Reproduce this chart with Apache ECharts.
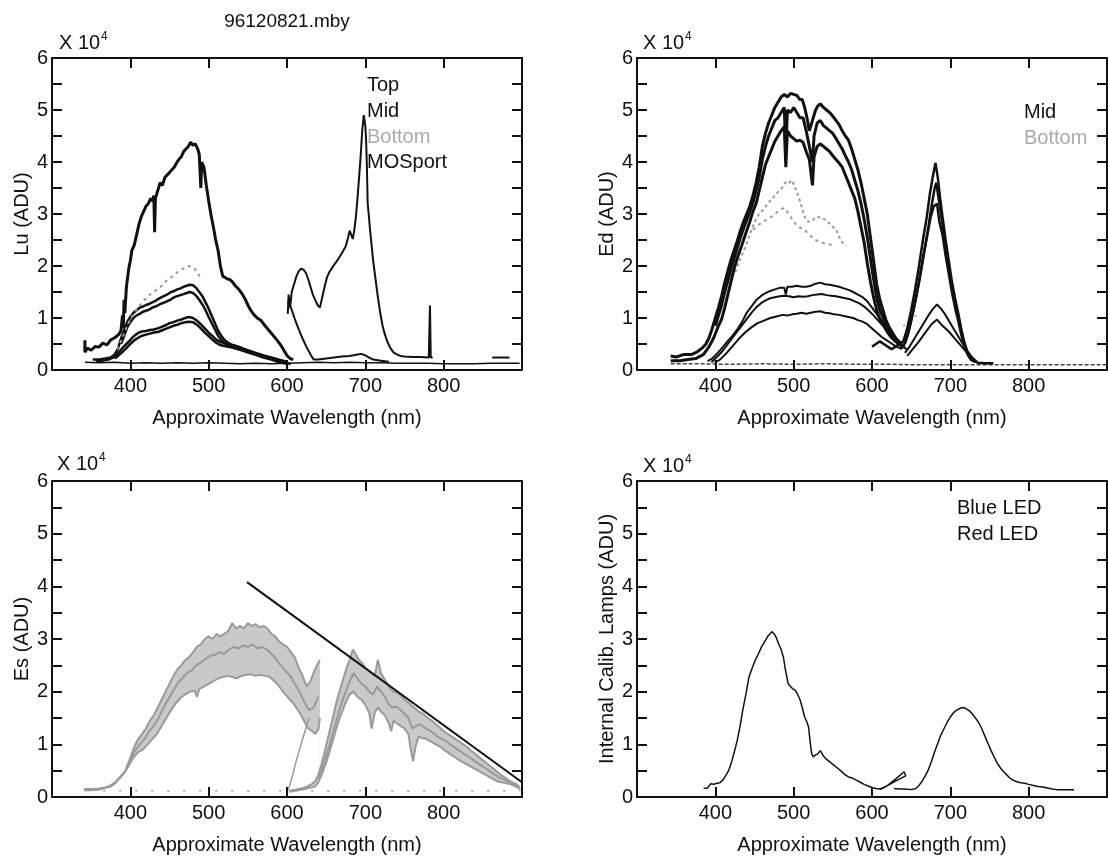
<!DOCTYPE html>
<html>
<head>
<meta charset="utf-8">
<title>96120821.mby</title>
<script src="https://cdn.jsdelivr.net/npm/echarts@6/dist/echarts.min.js"></script>
<style>
html,body{margin:0;padding:0;background:#fff;}
#chart{width:1108px;height:867px;}
</style>
</head>
<body>
<div id="chart"></div>
<script>
// ---- data. x = wavelength (nm), y = counts / 1e4 ----
var xTicks = [300, 900, 100];          // min, max, step
var yTicks = [0, 6, 0.5];

// panel 1 : Lu
var luTopBlue = [[342,0.57],[342,0.34],[345,0.42],[350,0.38],[355,0.45],[360,0.44],[365,0.52],[370,0.48],[375,0.58],[380,0.62],[385,0.68],[388,0.75],[390,1.05],[391,0.8],[392,1.35],[393,1.1],[395,1.6],[398,1.95],[400,2.1],[402,2.3],[405,2.4],[408,2.6],[411,2.8],[414,2.95],[417,3.05],[420,3.15],[423,3.2],[426,3.3],[428,3.25],[430,3.35],[431,2.65],[432,3.3],[435,3.45],[438,3.6],[441,3.55],[444,3.7],[447,3.75],[450,3.8],[453,3.85],[456,3.9],[459,3.98],[462,4.05],[465,4.1],[468,4.2],[471,4.25],[474,4.3],[477,4.38],[480,4.32],[483,4.35],[486,4.25],[488,4.15],[490,3.5],[491,4.0],[494,3.9],[497,3.55],[500,3.25],[503,2.98],[506,2.75],[509,2.5],[512,2.3],[515,2.0],[518,1.8],[521,1.78],[524,1.75],[527,1.74],[530,1.7],[534,1.62],[538,1.56],[542,1.48],[546,1.38],[550,1.25],[554,1.14],[558,1.06],[562,1.0],[567,0.95],[572,0.85],[577,0.76],[582,0.67],[587,0.58],[592,0.48],[596,0.38],[600,0.28],[604,0.22],[608,0.2]];
var luTopRed = [[601,1.08],[602,1.45],[604,1.2],[606,1.5],[609,1.65],[612,1.8],[615,1.9],[618,1.95],[621,1.93],[624,1.87],[627,1.75],[630,1.6],[633,1.45],[636,1.35],[639,1.25],[642,1.2],[645,1.4],[648,1.6],[651,1.78],[654,1.88],[657,1.95],[660,2.02],[663,2.08],[666,2.15],[669,2.22],[672,2.3],[675,2.38],[678,2.55],[680,2.68],[682,2.6],[684,2.52],[686,2.7],[688,2.95],[690,3.3],[692,3.7],[694,4.1],[696,4.6],[698,4.9],[700,4.7],[701,4.4],[702,3.9],[703,3.2],[704,3.05],[706,2.7],[708,2.4],[710,2.1],[713,1.75],[716,1.4],[719,1.1],[722,0.85],[725,0.68],[728,0.55],[732,0.42],[736,0.34],[740,0.3],[745,0.27],[750,0.26],[760,0.25],[770,0.25],[781,0.24],[782.5,1.24],[783.5,0.24],[786,0.24]];
var luTail = [[862,0.24],[884,0.24]];
var luMidA = [[352,0.2],[360,0.2],[368,0.22],[375,0.24],[380,0.3],[384,0.4],[388,0.6],[391,0.72],[394,0.85],[397,0.95],[400,1.02],[404,1.1],[408,1.15],[412,1.2],[416,1.22],[420,1.25],[424,1.27],[428,1.3],[432,1.33],[436,1.37],[440,1.4],[444,1.43],[448,1.46],[452,1.5],[456,1.52],[460,1.55],[464,1.57],[468,1.6],[472,1.62],[476,1.64],[480,1.63],[484,1.58],[488,1.5],[492,1.42],[496,1.3],[500,1.18],[504,1.04],[508,0.9],[512,0.76],[516,0.66],[520,0.58],[525,0.52],[530,0.48],[535,0.46],[540,0.44],[545,0.4],[550,0.37],[555,0.35],[560,0.32],[565,0.3],[570,0.27],[575,0.25],[580,0.22],[585,0.19],[590,0.17],[595,0.15],[600,0.13],[605,0.12]];
var luMidB = [[388,0.5],[392,0.65],[396,0.82],[400,0.92],[404,1.0],[408,1.05],[412,1.08],[416,1.12],[420,1.14],[424,1.16],[428,1.2],[432,1.22],[436,1.25],[440,1.28],[444,1.3],[448,1.33],[452,1.36],[456,1.4],[460,1.42],[464,1.44],[468,1.46],[472,1.48],[476,1.5],[480,1.48],[484,1.43],[488,1.35],[492,1.26],[496,1.15],[500,1.02],[504,0.9],[508,0.78],[512,0.66],[516,0.58],[520,0.52],[525,0.47],[530,0.44],[540,0.4],[550,0.34],[560,0.29],[570,0.24],[580,0.2],[590,0.15],[600,0.12]];
var luMidRed = [[601,1.32],[605,1.2],[610,0.98],[615,0.78],[620,0.6],[625,0.44],[630,0.3],[634,0.2],[640,0.2],[650,0.22],[660,0.24],[670,0.26],[680,0.27],[690,0.3],[695,0.31],[700,0.28],[705,0.24],[710,0.2],[720,0.18],[730,0.16]];
var luBottom = [[383,0.4],[388,0.55],[392,0.7],[396,0.85],[400,0.98],[405,1.1],[410,1.2],[415,1.3],[420,1.38],[425,1.45],[430,1.5],[435,1.56],[440,1.62],[445,1.7],[450,1.76],[455,1.82],[460,1.88],[465,1.93],[470,1.97],[475,2.0],[480,1.98],[485,1.9],[490,1.75]];
var luMosA = [[356,0.17],[365,0.18],[372,0.2],[378,0.24],[383,0.3],[387,0.37],[391,0.44],[395,0.5],[399,0.56],[403,0.63],[407,0.68],[411,0.72],[415,0.74],[420,0.75],[425,0.77],[430,0.78],[435,0.8],[440,0.83],[445,0.86],[450,0.9],[455,0.92],[460,0.95],[465,0.97],[470,1.0],[475,1.02],[480,1.0],[485,0.95],[490,0.88],[495,0.8],[500,0.72],[505,0.65],[510,0.58],[515,0.54],[520,0.52],[525,0.5],[530,0.48],[540,0.43],[550,0.38],[560,0.33],[570,0.28],[580,0.24],[590,0.2],[600,0.16]];
var luMosB = [[380,0.22],[385,0.28],[390,0.35],[395,0.42],[400,0.5],[405,0.57],[410,0.62],[415,0.66],[420,0.68],[425,0.7],[430,0.72],[435,0.73],[440,0.76],[445,0.79],[450,0.82],[455,0.85],[460,0.87],[465,0.9],[470,0.92],[475,0.93],[480,0.92],[485,0.87],[490,0.8],[495,0.72],[500,0.65],[505,0.58],[510,0.52],[515,0.48],[520,0.46],[530,0.43],[540,0.39],[550,0.34],[560,0.3],[570,0.25],[580,0.21],[590,0.17],[600,0.14]];
var luDark = [[342,0.15],[360,0.14],[380,0.15],[400,0.13],[420,0.14],[440,0.13],[460,0.14],[480,0.13],[500,0.14],[520,0.13],[540,0.12],[560,0.13],[580,0.12],[600,0.13],[620,0.14],[640,0.15],[660,0.14],[680,0.15],[700,0.14],[720,0.14],[740,0.13],[760,0.13],[780,0.13],[800,0.12],[820,0.12],[840,0.12],[860,0.13],[880,0.13],[897,0.13]];

// panel 2 : Ed
var edMidA = [[343,0.27],[350,0.25],[360,0.3],[370,0.3],[377,0.35],[383,0.42],[388,0.5],[392,0.62],[396,0.8],[400,1.0],[404,1.2],[408,1.42],[412,1.68],[416,1.9],[420,2.12],[424,2.3],[428,2.48],[432,2.68],[436,2.85],[440,3.0],[444,3.15],[448,3.35],[452,3.6],[456,3.9],[460,4.3],[464,4.55],[468,4.75],[472,4.9],[476,5.05],[480,5.15],[484,5.25],[488,5.3],[492,5.25],[496,5.32],[500,5.3],[504,5.28],[508,5.2],[511,5.2],[514,5.05],[517,4.85],[520,4.6],[522,4.7],[525,4.85],[528,5.0],[531,5.08],[534,5.12],[538,5.05],[542,5.0],[546,4.95],[550,4.88],[554,4.8],[558,4.72],[562,4.6],[566,4.5],[570,4.42],[574,4.25],[578,4.05],[582,3.85],[586,3.6],[590,3.3],[594,3.0],[598,2.55],[602,2.1],[606,1.65],[610,1.35],[614,1.15],[618,0.95],[622,0.82],[626,0.72],[630,0.62],[634,0.55],[638,0.5]];
var edMidB = [[343,0.18],[355,0.18],[365,0.2],[375,0.22],[385,0.3],[392,0.45],[398,0.62],[404,0.85],[408,0.98],[412,1.2],[416,1.45],[420,1.7],[424,1.95],[428,2.15],[432,2.32],[436,2.5],[440,2.68],[444,2.85],[448,3.05],[452,3.2],[456,3.45],[460,3.7],[464,3.95],[468,4.1],[472,4.25],[476,4.4],[480,4.5],[484,4.6],[488,4.68],[490,3.9],[492,4.6],[496,4.5],[500,4.45],[504,4.4],[508,4.42],[512,4.38],[516,4.2],[520,4.05],[524,3.55],[526,4.1],[530,4.3],[534,4.35],[538,4.3],[542,4.25],[546,4.2],[550,4.12],[554,4.05],[558,3.98],[562,3.9],[566,3.75],[570,3.6],[574,3.45],[578,3.3],[582,3.05],[586,2.75],[590,2.45],[594,2.05],[598,1.7],[602,1.4],[606,1.15],[610,0.98],[615,0.85],[620,0.72],[625,0.62],[630,0.55],[636,0.48],[640,0.42]];
var edMidC = [[400,0.85],[404,1.05],[408,1.25],[412,1.5],[416,1.72],[420,1.95],[424,2.15],[428,2.35],[432,2.55],[436,2.72],[440,2.88],[444,3.05],[448,3.22],[452,3.45],[456,3.7],[460,4.05],[464,4.3],[468,4.5],[472,4.65],[476,4.8],[480,4.85],[484,4.95],[488,5.05],[490,4.2],[492,5.0],[496,4.95],[500,5.05],[504,4.95],[508,4.85],[512,4.85],[516,4.6],[520,4.3],[524,4.0],[526,4.5],[530,4.75],[534,4.8],[538,4.7],[542,4.65],[546,4.6],[550,4.55],[554,4.45],[558,4.35],[562,4.25],[566,4.12],[570,4.0],[574,3.85],[578,3.65],[582,3.45],[586,3.2],[590,2.9],[594,2.55],[598,2.15],[602,1.75],[606,1.4],[610,1.15],[615,0.98],[620,0.82],[625,0.7],[630,0.6],[636,0.52]];
var edRedA = [[600,0.45],[605,0.5],[610,0.55],[615,0.5],[620,0.45],[625,0.4],[630,0.45],[635,0.5],[640,0.55],[645,0.8],[650,1.15],[655,1.55],[660,2.0],[665,2.5],[670,2.95],[674,3.4],[678,3.75],[681,3.98],[684,3.7],[687,3.3],[690,2.95],[694,2.5],[698,2.1],[702,1.7],[706,1.38],[710,1.1],[714,0.78],[718,0.52],[722,0.35],[726,0.25],[730,0.18],[735,0.14],[745,0.13],[755,0.13]];
var edRedB = [[640,0.45],[645,0.65],[650,0.95],[655,1.3],[660,1.7],[665,2.15],[670,2.55],[675,2.95],[679,3.15],[683,3.2],[686,2.85],[690,2.6],[694,2.2],[698,1.85],[702,1.5],[706,1.2],[710,0.95],[714,0.68],[718,0.45],[722,0.3],[726,0.2],[732,0.15]];
var edRedC = [[642,0.5],[647,0.75],[652,1.08],[657,1.45],[662,1.85],[667,2.3],[672,2.75],[676,3.15],[680,3.5],[682,3.6],[685,3.3],[688,3.0],[692,2.6],[696,2.2],[700,1.8],[704,1.48],[708,1.18],[712,0.9],[716,0.62],[720,0.4],[724,0.27],[728,0.19]];
var edLowA = [[390,0.17],[396,0.22],[403,0.33],[410,0.45],[416,0.56],[422,0.66],[428,0.78],[434,0.92],[440,1.1],[446,1.22],[452,1.34],[458,1.42],[464,1.48],[470,1.52],[476,1.55],[482,1.58],[488,1.58],[490,1.45],[492,1.6],[498,1.6],[504,1.62],[510,1.6],[516,1.6],[522,1.62],[528,1.66],[534,1.68],[540,1.65],[546,1.64],[552,1.62],[558,1.6],[564,1.57],[570,1.54],[576,1.5],[582,1.45],[588,1.4],[594,1.32],[600,1.2],[606,1.08],[612,0.96],[618,0.84],[624,0.72],[630,0.62],[636,0.52],[642,0.42]];
var edLowB = [[395,0.15],[402,0.25],[410,0.38],[416,0.5],[422,0.62],[428,0.74],[434,0.86],[440,0.98],[446,1.1],[452,1.2],[458,1.28],[464,1.34],[470,1.38],[476,1.4],[482,1.42],[488,1.43],[494,1.42],[500,1.4],[506,1.42],[512,1.41],[518,1.42],[524,1.44],[530,1.45],[536,1.46],[542,1.44],[548,1.43],[554,1.42],[560,1.4],[566,1.38],[572,1.36],[578,1.32],[584,1.28],[590,1.22],[596,1.14],[602,1.05],[608,0.95],[614,0.85],[620,0.75],[626,0.65],[632,0.55],[638,0.47],[644,0.4]];
var edLowC = [[399,0.14],[406,0.2],[414,0.32],[422,0.46],[430,0.6],[438,0.72],[446,0.82],[454,0.9],[462,0.95],[470,1.0],[478,1.03],[486,1.06],[492,1.05],[498,1.07],[504,1.08],[510,1.1],[516,1.08],[522,1.1],[528,1.12],[534,1.13],[540,1.1],[546,1.09],[552,1.07],[558,1.06],[564,1.04],[570,1.02],[576,1.0],[582,0.96],[588,0.93],[594,0.88],[600,0.8],[606,0.72],[612,0.64],[618,0.58],[624,0.52],[630,0.46],[638,0.4]];
var edLowRedA = [[642,0.33],[648,0.45],[654,0.6],[660,0.75],[666,0.9],[672,1.05],[678,1.18],[683,1.26],[688,1.18],[692,1.1],[698,0.95],[704,0.8],[710,0.65],[716,0.5],[722,0.36],[728,0.24],[734,0.16]];
var edLowRedB = [[645,0.27],[652,0.4],[660,0.55],[668,0.72],[676,0.88],[683,0.97],[690,0.85],[698,0.74],[706,0.6],[714,0.46],[722,0.32],[730,0.2]];
var edBotA = [[420,1.8],[426,1.9],[432,2.15],[438,2.35],[444,2.6],[450,2.85],[456,3.0],[462,3.1],[468,3.22],[474,3.32],[480,3.42],[486,3.52],[490,3.62],[494,3.6],[498,3.65],[502,3.5],[506,3.35],[510,3.15],[514,2.95],[518,2.85],[524,2.88],[530,2.95],[536,2.92],[542,2.88],[548,2.78],[554,2.7],[560,2.5],[566,2.38]];
var edBotB = [[448,2.7],[456,2.8],[464,2.88],[472,2.95],[480,3.05],[488,3.12],[494,3.0],[500,2.85],[506,2.75],[512,2.72],[520,2.6],[528,2.5],[536,2.45],[544,2.42],[552,2.4]];
var edBotRed = [[640,0.85],[646,0.92],[652,1.0],[660,1.08]];
var edDark = [[343,0.12],[380,0.12],[420,0.11],[460,0.12],[500,0.11],[540,0.12],[580,0.11],[620,0.11],[660,0.1],[700,0.1],[740,0.1],[780,0.1],[820,0.1],[860,0.1],[900,0.1]];

// panel 3 : Es
var esLine = [[549,4.08],[900,0.28]];
var esBlueA = [[341,0.15],[350,0.15],[360,0.16],[368,0.18],[375,0.22],[382,0.3],[388,0.4],[394,0.5],[400,0.75],[405,0.95],[410,1.1],[415,1.2],[420,1.3],[425,1.45],[430,1.55],[435,1.7],[440,1.85],[445,2.0],[450,2.15],[455,2.3],[460,2.42],[465,2.5],[470,2.6],[475,2.65],[480,2.75],[485,2.85],[490,2.9],[495,3.0],[500,3.05],[505,3.0],[510,3.1],[515,3.05],[520,3.1],[525,3.15],[530,3.3],[535,3.2],[540,3.25],[545,3.2],[550,3.3],[555,3.25],[560,3.28],[565,3.22],[570,3.25],[575,3.2],[580,3.1],[585,3.05],[590,2.95],[595,2.9],[600,2.85],[605,2.75],[610,2.65],[615,2.45],[620,2.3],[625,2.1],[630,2.2],[635,2.4],[640,2.55],[642,2.6]];
var esBlueB = [[395,0.55],[400,0.7],[406,0.88],[412,1.0],[418,1.1],[424,1.25],[430,1.35],[436,1.5],[442,1.68],[448,1.85],[454,2.0],[460,2.15],[466,2.25],[472,2.35],[478,2.4],[484,2.5],[490,2.55],[496,2.62],[502,2.68],[508,2.7],[514,2.75],[520,2.72],[526,2.8],[532,2.85],[538,2.82],[544,2.88],[550,2.85],[556,2.9],[562,2.82],[568,2.85],[574,2.8],[580,2.72],[586,2.62],[592,2.5],[598,2.4],[604,2.3],[610,2.15],[616,2.0],[622,1.8],[628,1.65],[634,1.7],[640,1.9]];
var esBlueC = [[341,0.13],[360,0.14],[375,0.2],[380,0.25],[386,0.35],[392,0.45],[398,0.6],[404,0.75],[410,0.85],[416,0.9],[422,1.0],[428,1.1],[434,1.2],[440,1.35],[446,1.5],[452,1.65],[458,1.78],[464,1.88],[470,1.95],[476,2.0],[482,2.02],[485,1.9],[488,2.05],[494,2.1],[500,2.15],[506,2.2],[512,2.25],[518,2.28],[524,2.3],[530,2.28],[536,2.25],[542,2.3],[548,2.32],[554,2.33],[560,2.3],[566,2.32],[572,2.3],[578,2.28],[584,2.2],[590,2.1],[596,1.98],[602,1.88],[608,1.78],[614,1.65],[620,1.5],[626,1.32],[632,1.25],[636,1.2],[640,1.28],[642,1.5]];
var esRise = [[600,0.1],[603,0.2],[607,0.4],[612,0.7],[618,1.0],[624,1.3],[628,1.5]];
var esRedA = [[603,0.12],[610,0.14],[618,0.16],[626,0.2],[632,0.25],[636,0.3],[640,0.42],[644,0.62],[648,0.85],[652,1.1],[656,1.35],[660,1.6],[664,1.85],[668,2.05],[672,2.25],[676,2.45],[680,2.6],[684,2.8],[688,2.7],[692,2.6],[696,2.55],[700,2.45],[704,2.4],[708,2.35],[712,2.3],[716,2.6],[720,2.35],[724,2.25],[728,2.15],[732,2.05],[736,2.0],[740,1.98],[744,1.95],[748,1.88],[752,1.82],[756,1.78],[760,1.72],[764,1.68],[768,1.62],[772,1.6],[776,1.55],[780,1.5],[785,1.45],[790,1.38],[795,1.32],[800,1.25],[805,1.2],[810,1.15],[815,1.1],[820,1.05],[825,1.0],[830,0.95],[835,0.88],[840,0.82],[845,0.76],[850,0.7],[855,0.64],[860,0.58],[865,0.52],[870,0.46],[875,0.4],[880,0.35],[885,0.3],[890,0.25],[897,0.2]];
var esRedB = [[640,0.35],[645,0.55],[650,0.78],[655,1.02],[660,1.3],[665,1.55],[670,1.8],[675,2.0],[680,2.2],[685,2.35],[690,2.25],[695,2.15],[700,2.1],[705,2.0],[710,1.95],[715,2.1],[720,2.0],[725,1.9],[730,1.75],[735,1.7],[740,1.72],[745,1.65],[750,1.58],[755,1.5],[760,1.3],[765,1.35],[770,1.38],[775,1.32],[780,1.28],[786,1.22],[792,1.15],[798,1.1],[804,1.05],[810,0.98],[816,0.92],[822,0.86],[828,0.8],[834,0.74],[840,0.68],[846,0.62],[852,0.56],[858,0.5],[864,0.44],[870,0.38],[876,0.34],[882,0.3],[888,0.27],[894,0.24]];
var esRedC = [[603,0.1],[620,0.14],[636,0.2],[640,0.28],[645,0.45],[650,0.65],[655,0.9],[660,1.15],[665,1.4],[670,1.6],[675,1.8],[680,1.95],[685,2.0],[690,1.9],[695,1.85],[700,1.75],[705,1.6],[708,1.3],[712,1.6],[716,1.7],[720,1.62],[725,1.55],[730,1.4],[733,1.25],[736,1.45],[740,1.4],[745,1.35],[750,1.3],[755,1.2],[758,0.9],[761,0.68],[764,0.95],[768,1.15],[772,1.12],[778,1.1],[784,1.05],[790,1.0],[796,0.95],[802,0.88],[808,0.82],[814,0.76],[820,0.7],[826,0.65],[832,0.6],[838,0.55],[844,0.5],[850,0.45],[856,0.4],[862,0.35],[868,0.3],[874,0.28],[880,0.26],[886,0.24],[892,0.2],[898,0.15]];
var esFloor = [[345,0.12],[400,0.12],[450,0.11],[500,0.12],[550,0.11],[600,0.12],[650,0.11],[700,0.12],[750,0.11],[800,0.12],[850,0.11],[898,0.12]];

// panel 4 : calibration lamps
var blueLed = [[385,0.16],[390,0.17],[394,0.25],[398,0.24],[402,0.26],[406,0.27],[410,0.33],[413,0.4],[417,0.5],[421,0.68],[425,0.9],[428,1.08],[432,1.38],[435,1.65],[439,1.95],[443,2.28],[447,2.45],[451,2.6],[455,2.72],[459,2.85],[463,2.95],[467,3.05],[470,3.1],[472,3.14],[475,3.1],[478,3.02],[481,2.9],[484,2.8],[487,2.65],[489,2.45],[491,2.3],[493,2.15],[496,2.1],[499,2.05],[502,2.03],[505,1.95],[508,1.85],[511,1.7],[514,1.52],[517,1.42],[519,1.33],[521,1.05],[523,0.82],[525,0.76],[528,0.8],[531,0.82],[534,0.88],[536,0.86],[538,0.78],[541,0.73],[545,0.68],[550,0.62],[555,0.56],[560,0.5],[565,0.43],[570,0.38],[575,0.36],[580,0.32],[585,0.28],[590,0.24],[595,0.21],[600,0.18],[605,0.16],[610,0.15],[620,0.22],[630,0.34],[641,0.48],[643,0.4],[630,0.3],[618,0.2],[610,0.14]];
var redLed = [[628,0.16],[635,0.15],[642,0.15],[650,0.14],[656,0.16],[660,0.22],[664,0.3],[668,0.4],[672,0.52],[676,0.68],[680,0.86],[684,1.02],[688,1.18],[692,1.3],[696,1.42],[700,1.52],[704,1.6],[708,1.65],[712,1.68],[716,1.7],[720,1.68],[724,1.64],[728,1.58],[732,1.5],[736,1.42],[740,1.3],[744,1.16],[748,1.02],[752,0.88],[756,0.76],[760,0.64],[764,0.55],[768,0.48],[772,0.42],[776,0.36],[780,0.32],[785,0.29],[790,0.27],[795,0.26],[800,0.24],[806,0.22],[812,0.2],[818,0.19],[824,0.17],[830,0.15],[836,0.14],[842,0.14],[850,0.14],[858,0.14]];

var yNames = ['Lu (ADU)', 'Ed (ADU)', 'Es (ADU)', 'Internal Calib. Lamps (ADU)'];
var xName = 'Approximate Wavelength (nm)';

// ---- layout ----
var FONT = '"Liberation Sans", Arial, sans-serif';
var INK = '#111';
var GREY = '#9a9a9a';
var boxes = [
    {left: 52,  top: 58,  width: 470, height: 312},
    {left: 637, top: 58,  width: 470, height: 312},
    {left: 52,  top: 481, width: 470, height: 316},
    {left: 637, top: 481, width: 470, height: 316}
];
var yNameGap = [14, 20, 20, 20];

var myChart = echarts.init(document.getElementById('chart'));

var grid = [], xAxis = [], yAxis = [], series = [];
boxes.forEach(function (b, i) {
    grid.push({left: b.left, top: b.top, width: b.width, height: b.height, outerBoundsMode: 'none'});
    ['bottom', 'top'].forEach(function (pos) {
        xAxis.push({
            type: 'value', gridIndex: i, position: pos, z: 5,
            min: xTicks[0], max: xTicks[1], interval: xTicks[2],
            axisLine: {show: true, onZero: false, lineStyle: {color: INK, width: 2}},
            axisTick: {show: true, inside: true, length: 10, lineStyle: {color: INK, width: 2}},
            axisLabel: {show: pos == 'bottom', showMinLabel: false, showMaxLabel: false,
                color: INK, fontSize: 20, fontFamily: FONT, margin: 6},
            splitLine: {show: false},
            name: pos == 'bottom' ? xName : '',
            nameLocation: 'middle', nameGap: 38,
            nameTextStyle: {color: INK, fontSize: 20, fontFamily: FONT}
        });
    });
    ['left', 'right'].forEach(function (pos) {
        yAxis.push({
            type: 'value', gridIndex: i, position: pos, z: 5,
            min: yTicks[0], max: yTicks[1], interval: yTicks[2],
            axisLine: {show: true, onZero: false, lineStyle: {color: INK, width: 2}},
            axisTick: {show: true, inside: true, length: 10, lineStyle: {color: INK, width: 2}},
            axisLabel: {show: pos == 'left', color: INK, fontSize: 20, fontFamily: FONT, margin: 4,
                formatter: function (v) { return v % 1 === 0 ? String(v) : ''; }},
            splitLine: {show: false},
            name: pos == 'left' ? yNames[i] : '',
            nameLocation: 'middle', nameRotate: 90, nameGap: yNameGap[i],
            nameTextStyle: {color: INK, fontSize: 20, fontFamily: FONT}
        });
    });
});

// one line on panel p
function addLine(name, data, p, color, width, dash, fill) {
    var s = {
        name: name, type: 'line', data: data,
        xAxisIndex: p * 2, yAxisIndex: p * 2,
        showSymbol: false, symbol: 'none', silent: true, animation: false,
        lineStyle: {color: color, width: width, type: dash || 'solid'}
    };
    if (fill) s.areaStyle = {color: fill, opacity: 1, origin: 'start'};
    series.push(s);
}

addLine('Dark', luDark, 0, INK, 1.5);
addLine('Top', luTopBlue, 0, INK, 3);
addLine('Top', luTopRed, 0, INK, 2);
addLine('Top', luTail, 0, INK, 2);
addLine('Mid', luMidA, 0, INK, 2.5);
addLine('Mid', luMidB, 0, INK, 2.5);
addLine('Mid', luMidRed, 0, INK, 2);
addLine('MOSport', luMosA, 0, INK, 2.5);
addLine('MOSport', luMosB, 0, INK, 2.5);
addLine('Bottom', luBottom, 0, GREY, 2, [3, 4]);

addLine('Dark', edDark, 1, '#444', 1.5, [4, 2]);
addLine('Bottom', edBotA, 1, GREY, 2, [3, 3]);
addLine('Bottom', edBotB, 1, GREY, 2, [3, 4]);
addLine('Bottom', edBotRed, 1, GREY, 1.5, [2, 3]);
addLine('Mid', edMidA, 1, INK, 3);
addLine('Mid', edMidC, 1, INK, 3);
addLine('Mid', edMidB, 1, INK, 3);
addLine('Mid', edRedA, 1, INK, 2.5);
addLine('Mid', edRedC, 1, INK, 2.5);
addLine('Mid', edRedB, 1, INK, 2.5);
addLine('Mid', edLowA, 1, INK, 2);
addLine('Mid', edLowB, 1, INK, 2);
addLine('Mid', edLowC, 1, INK, 2);
addLine('Mid', edLowRedA, 1, INK, 2);
addLine('Mid', edLowRedB, 1, INK, 2);

// Es band: grey under the upper edge, white under the lower edge
addLine('Es', esBlueA, 2, GREY, 2, null, '#c9c9c9');
addLine('Es', esBlueC, 2, GREY, 2, null, '#fff');
addLine('Es', esRedA, 2, GREY, 2, null, '#c9c9c9');
addLine('Es', esRedC, 2, GREY, 2, null, '#fff');
addLine('Es', esBlueB, 2, GREY, 2);
addLine('Es', esRedB, 2, GREY, 2);
addLine('Es', esRise, 2, GREY, 1.5);
addLine('Es', esFloor, 2, GREY, 1.5, [2, 14]);
addLine('Es fit', esLine, 2, INK, 2);

addLine('Blue LED', blueLed, 3, INK, 1.5);
addLine('Red LED', redLed, 3, INK, 1.5);

// text on the page: file name, x10^4 markers, legend words
function txt(s, x, y, size, color, align) {
    return {type: 'text', x: x, y: y, silent: true, z: 10,
        style: {text: s, fill: color || INK, font: size + 'px ' + FONT,
            textAlign: align || 'left', textVerticalAlign: 'middle'}};
}
var graphic = [txt('96120821.mby', 287, 22, 19, INK, 'center')];
[[59, 43], [643, 43], [57, 464], [643, 466]].forEach(function (p) {
    graphic.push(txt('X 10', p[0], p[1], 20));
    graphic.push(txt('4', p[0] + 42, p[1] - 6, 12));
});
graphic.push(txt('Top', 367, 85, 20));
graphic.push(txt('Mid', 367, 111, 20));
graphic.push(txt('Bottom', 367, 137, 20, '#aaa'));
graphic.push(txt('MOSport', 367, 162, 20));
graphic.push(txt('Mid', 1024, 112, 20));
graphic.push(txt('Bottom', 1024, 138, 20, '#aaa'));
graphic.push(txt('Blue LED', 957, 508, 20));
graphic.push(txt('Red LED', 957, 534, 20));

var option = {
    animation: false,
    backgroundColor: '#fff',
    textStyle: {fontFamily: FONT},
    grid: grid,
    xAxis: xAxis,
    yAxis: yAxis,
    series: series,
    graphic: graphic
};
myChart.setOption(option, true);
</script>
</body>
</html>
